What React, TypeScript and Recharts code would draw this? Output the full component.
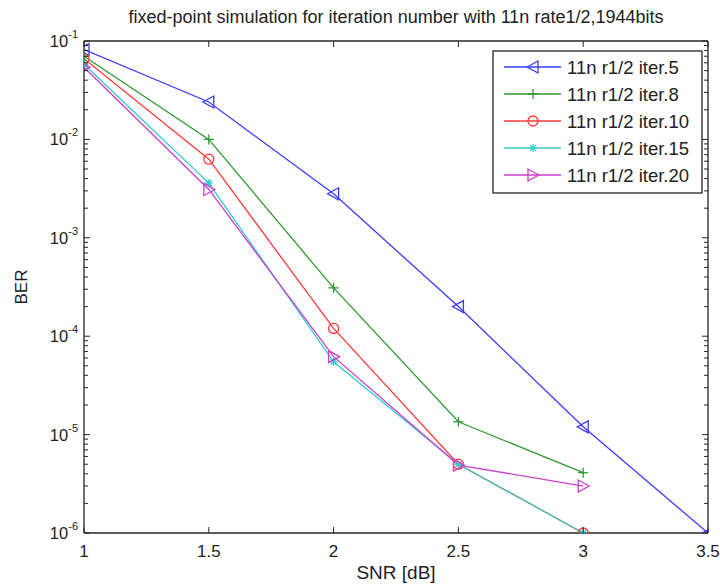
import { LineChart, Line, XAxis, YAxis, Customized } from 'recharts';

// SNR points in dB
const SNR = [1, 1.5, 2, 2.5, 3, 3.5];

// BER, one array per iteration count
const ITER5 = [0.082, 0.024, 0.0028, 2.0e-4, 1.2e-5, 1.0e-6];
const ITER8 = [0.07, 0.01, 3.1e-4, 1.35e-5, 4.1e-6];
const ITER10 = [0.066, 0.0063, 1.2e-4, 5.0e-6, 1.0e-6];
const ITER15 = [0.058, 0.0036, 5.5e-5, 5.0e-6, 1.0e-6];
const ITER20 = [0.054, 0.0031, 6.2e-5, 4.9e-6, 3.0e-6];

const X_TICKS = [1, 1.5, 2, 2.5, 3, 3.5];
const DECADES = [-6, -5, -4, -3, -2, -1];

const TITLE = 'fixed-point simulation for iteration number with 11n rate1/2,1944bits';

const SERIES = [
    { key: 'iter5', name: '11n r1/2 iter.5', values: ITER5, color: '#3a3aff', marker: 'triLeft' },
    { key: 'iter8', name: '11n r1/2 iter.8', values: ITER8, color: '#2e9a2e', marker: 'plus' },
    { key: 'iter10', name: '11n r1/2 iter.10', values: ITER10, color: '#ff3838', marker: 'circle' },
    { key: 'iter15', name: '11n r1/2 iter.15', values: ITER15, color: '#33cccc', marker: 'star' },
    { key: 'iter20', name: '11n r1/2 iter.20', values: ITER20, color: '#cc40cc', marker: 'triRight' },
];

// log ticks: 1..9 x 10^e, ending at 10^-1
const Y_TICKS: number[] = [];
DECADES.forEach(e => {
    for (let m = 1; m <= 9; m++) {
        if (e === -1 && m > 1) break;
        Y_TICKS.push(m * Math.pow(10, e));
    }
});

const data = SNR.map((snr, i) => {
    const row: Record<string, any> = { snr };
    SERIES.forEach(s => {
        row[s.key] = s.values[i];
    });
    return row;
});

const W = 720;
const H = 587;
const LEFT = 84;
const RIGHT = 12;
const TOP = 41;
const BOTTOM = 54;
const PLOT_L = LEFT;
const PLOT_R = W - RIGHT;
const PLOT_T = TOP;
const PLOT_B = H - BOTTOM;
const AXIS = '#262626';
const FONT = 'Liberation Sans, Arial, sans-serif';

const isMajor = (v: number) => Math.abs(Math.log10(v) - Math.round(Math.log10(v))) < 1e-6;

function Marker({ type, cx, cy, color }: { type: string; cx: number; cy: number; color: string }) {
    const common = { stroke: color, strokeWidth: 1.3, fill: 'none' };
    switch (type) {
        case 'triLeft':
            return <polygon points={`${cx - 6},${cy} ${cx + 5},${cy - 6} ${cx + 5},${cy + 6}`} {...common} />;
        case 'triRight':
            return <polygon points={`${cx + 6},${cy} ${cx - 5},${cy - 6} ${cx - 5},${cy + 6}`} {...common} />;
        case 'circle':
            return <circle cx={cx} cy={cy} r={5} {...common} />;
        case 'plus':
            return (
                <g {...common}>
                    <line x1={cx - 5} y1={cy} x2={cx + 5} y2={cy} />
                    <line x1={cx} y1={cy - 5} x2={cx} y2={cy + 5} />
                </g>
            );
        case 'star':
            return (
                <g {...common}>
                    <line x1={cx - 4} y1={cy} x2={cx + 4} y2={cy} />
                    <line x1={cx} y1={cy - 4} x2={cx} y2={cy + 4} />
                    <line x1={cx - 3} y1={cy - 3} x2={cx + 3} y2={cy + 3} />
                    <line x1={cx - 3} y1={cy + 3} x2={cx + 3} y2={cy - 3} />
                </g>
            );
        default:
            return null;
    }
}

const makeDot = (type: string, color: string) => (props: any) => {
    const { cx, cy, index } = props;
    if (cx == null || cy == null || props.value == null) return <g key={`e${index}`} />;
    return (
        <g key={`d${index}`}>
            <Marker type={type} cx={cx} cy={cy} color={color} />
        </g>
    );
};

const BottomTick = (props: any) => {
    const { x, payload } = props;
    return (
        <g>
            <line x1={x} y1={PLOT_B} x2={x} y2={PLOT_B - 6} stroke={AXIS} />
            <text x={x} y={PLOT_B + 24} textAnchor="middle" fontSize={17} fontFamily={FONT} fill="#222">
                {payload.value}
            </text>
        </g>
    );
};

const TopTick = (props: any) => {
    const { x } = props;
    return <line x1={x} y1={PLOT_T} x2={x} y2={PLOT_T + 6} stroke={AXIS} />;
};

const LeftTick = (props: any) => {
    const { y, payload } = props;
    const major = isMajor(payload.value);
    const exp = Math.round(Math.log10(payload.value));
    return (
        <g>
            <line x1={PLOT_L} y1={y} x2={PLOT_L + (major ? 6 : 4)} y2={y} stroke={AXIS} />
            {major && (
                <text x={78} y={y + 6} textAnchor="end" fontSize={16.5} fontFamily={FONT} fill="#222">
                    10
                    <tspan dy={-9} fontSize={11}>
                        {exp}
                    </tspan>
                </text>
            )}
        </g>
    );
};

const RightTick = (props: any) => {
    const { y, payload } = props;
    const major = isMajor(payload.value);
    return <line x1={PLOT_R} y1={y} x2={PLOT_R - (major ? 6 : 4)} y2={y} stroke={AXIS} />;
};

const Texts = () => {
    const lx = 493;
    const ly = 51;
    const rowY = [67, 94, 121, 148, 175];
    return (
        <g fontFamily={FONT}>
            <text x={(PLOT_L + PLOT_R) / 2} y={23} textAnchor="middle" fontSize={18} fill="#222">
                {TITLE}
            </text>
            <text x={(PLOT_L + PLOT_R) / 2} y={579} textAnchor="middle" fontSize={19} fill="#222">
                SNR [dB]
            </text>
            <text x={27} y={287} textAnchor="middle" fontSize={17} fill="#222" transform="rotate(-90 27 287)">
                BER
            </text>
            <rect x={lx} y={ly} width={209} height={142} fill="#fff" stroke={AXIS} strokeWidth={1.3} />
            {SERIES.map((s, i) => (
                <g key={s.key}>
                    <line x1={504} y1={rowY[i]} x2={561} y2={rowY[i]} stroke={s.color} strokeWidth={1.3} />
                    <Marker type={s.marker} cx={533} cy={rowY[i]} color={s.color} />
                    <text x={567} y={rowY[i] + 7} fontSize={18.5} fill="#222">
                        {s.name}
                    </text>
                </g>
            ))}
        </g>
    );
};

export default function App() {
    return (
        <div style={{ position: 'absolute', left: 0, top: 0, width: W, height: H, background: '#fff' }}>
            <LineChart
                width={W}
                height={H}
                data={data}
                margin={{ top: 0, right: 0, bottom: 0, left: 0 }}
                style={{ overflow: 'visible' }}
            >
                <XAxis
                    dataKey="snr"
                    type="number"
                    domain={[1, 3.5]}
                    ticks={X_TICKS}
                    height={BOTTOM}
                    stroke={AXIS}
                    strokeWidth={1.3}
                    tickLine={false}
                    tick={<BottomTick />}
                    allowDataOverflow
                />
                <XAxis
                    xAxisId="top"
                    dataKey="snr"
                    type="number"
                    orientation="top"
                    domain={[1, 3.5]}
                    ticks={X_TICKS}
                    height={TOP}
                    stroke={AXIS}
                    strokeWidth={1.3}
                    tickLine={false}
                    tick={<TopTick />}
                    allowDataOverflow
                />
                <YAxis
                    scale="log"
                    type="number"
                    domain={[1e-6, 1e-1]}
                    ticks={Y_TICKS}
                    width={LEFT}
                    stroke={AXIS}
                    strokeWidth={1.3}
                    tickLine={false}
                    tick={<LeftTick />}
                    interval={0}
                    allowDataOverflow
                />
                <YAxis
                    yAxisId="right"
                    orientation="right"
                    scale="log"
                    type="number"
                    domain={[1e-6, 1e-1]}
                    ticks={Y_TICKS}
                    width={RIGHT}
                    stroke={AXIS}
                    strokeWidth={1.3}
                    tickLine={false}
                    tick={<RightTick />}
                    interval={0}
                    allowDataOverflow
                />
                {SERIES.map(s => (
                    <Line
                        key={s.key}
                        dataKey={s.key}
                        name={s.name}
                        stroke={s.color}
                        strokeWidth={1.3}
                        dot={makeDot(s.marker, s.color)}
                        activeDot={false}
                        isAnimationActive={false}
                    />
                ))}
                <Customized component={<Texts />} />
            </LineChart>
        </div>
    );
}
